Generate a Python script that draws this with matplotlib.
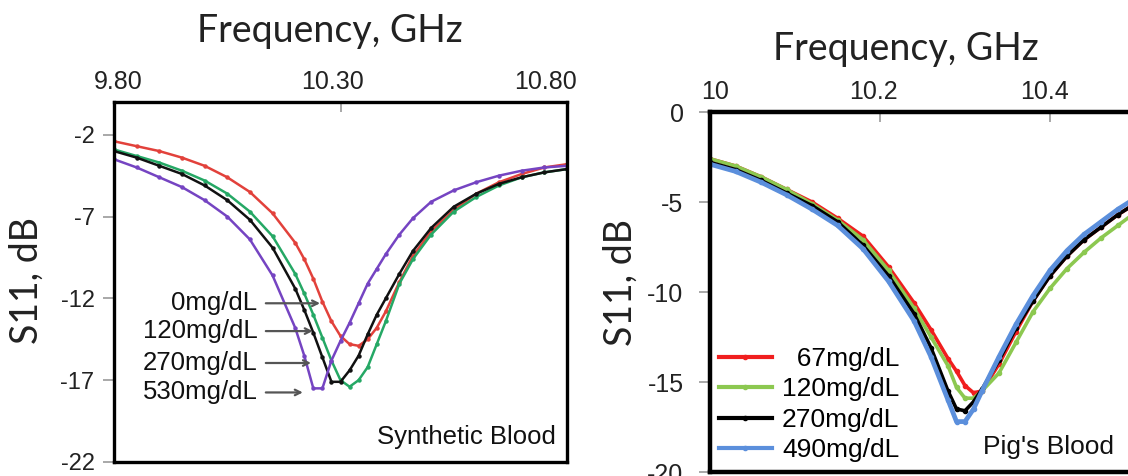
import matplotlib
matplotlib.use("Agg")
import matplotlib.pyplot as plt
import matplotlib.transforms as mtransforms
from matplotlib.lines import Line2D

# synthetic blood sweep (GHz, dB)
syn_freq = [9.80, 9.85, 9.90, 9.95, 10.00, 10.05, 10.10, 10.15, 10.20, 10.22,
            10.24, 10.26, 10.28, 10.30, 10.32, 10.34, 10.36, 10.38, 10.40, 10.43,
            10.46, 10.50, 10.55, 10.60, 10.65, 10.70, 10.75, 10.80]
syn_0 = [-2.4, -2.7, -3.0, -3.4, -3.9, -4.6, -5.5, -6.8, -8.6, -9.6,
         -10.8, -12.2, -13.4, -14.3, -14.8, -14.9, -14.5, -13.8, -12.8, -11.0,
         -9.4, -7.9, -6.6, -5.6, -4.9, -4.4, -4.0, -3.8]
syn_120 = [-2.9, -3.3, -3.7, -4.2, -4.8, -5.6, -6.7, -8.2, -10.5, -11.7,
           -13.0, -14.4, -15.8, -17.0, -17.4, -17.0, -16.2, -14.8, -13.4, -11.1,
           -9.6, -8.1, -6.7, -5.8, -5.1, -4.6, -4.3, -4.1]
syn_270 = [-3.0, -3.4, -3.9, -4.4, -5.1, -6.0, -7.2, -8.9, -11.4, -12.7,
           -14.1, -15.6, -17.1, -17.1, -16.4, -15.5, -14.2, -13.0, -12.0, -10.5,
           -9.1, -7.7, -6.4, -5.6, -5.0, -4.6, -4.3, -4.1]
syn_530 = [-3.5, -4.0, -4.6, -5.2, -6.0, -7.0, -8.4, -10.6, -13.8, -15.5,
           -17.5, -17.5, -15.8, -14.6, -13.5, -12.3, -11.1, -10.2, -9.3, -8.1,
           -7.1, -6.1, -5.4, -4.9, -4.5, -4.2, -4.0, -3.9]
syn_labels = ["0mg/dL", "120mg/dL", "270mg/dL", "530mg/dL"]
syn_colors = ["#e2413b", "#25a865", "#111111", "#7544c2"]
arrow_tips = [10.261, 10.245, 10.241, 10.223]
arrow_y = [-12.3, -14.0, -15.95, -17.75]

# pig's blood sweep (GHz, dB)
pig_freq = [10.00, 10.03, 10.06, 10.09, 10.12, 10.15, 10.18, 10.21, 10.24, 10.26,
            10.28, 10.29, 10.30, 10.31, 10.32, 10.34, 10.36, 10.38, 10.40, 10.42,
            10.44, 10.46, 10.48, 10.50]
pig_67 = [-2.6, -3.0, -3.6, -4.3, -5.0, -5.9, -6.9, -8.6, -10.6, -12.1,
          -13.7, -14.4, -15.2, -15.6, -15.5, -14.0, -12.2, -10.5, -9.1, -8.0,
          -7.1, -6.4, -5.7, -5.1]
pig_120 = [-2.6, -3.0, -3.6, -4.3, -5.1, -6.0, -7.1, -8.8, -10.9, -12.5,
           -14.1, -15.3, -15.9, -15.9, -15.5, -14.5, -12.8, -11.1, -9.8, -8.7,
           -7.8, -7.0, -6.3, -5.6]
pig_270 = [-2.8, -3.2, -3.8, -4.5, -5.2, -6.1, -7.4, -9.1, -11.2, -13.1,
           -15.5, -16.5, -16.6, -16.1, -15.4, -13.8, -12.0, -10.5, -9.1, -8.0,
           -7.1, -6.4, -5.7, -5.1]
pig_490 = [-2.9, -3.3, -3.9, -4.6, -5.4, -6.3, -7.6, -9.4, -11.6, -13.6,
           -16.0, -17.2, -17.2, -16.5, -15.5, -13.6, -11.8, -10.2, -8.8, -7.7,
           -6.8, -6.1, -5.4, -4.8]
pig_labels = ["  67mg/dL", "120mg/dL", "270mg/dL", "490mg/dL"]
pig_colors = ["#f01e1e", "#8cc850", "#000000", "#5b8fdc"]

syn_xticks = [9.80, 10.30, 10.80]
syn_yticks = [-22, -17, -12, -7, -2]
pig_xticks = [10.0, 10.2, 10.4]
pig_yticks = [-20, -15, -10, -5, 0]

W, H = 1128, 476
fig = plt.figure(figsize=(W / 100, H / 100), dpi=100)
arial = "Liberation Sans"
title_font = "Lato"


def px_box(x0, y0, x1, y1):
    return [x0 / W, 1 - y1 / H, (x1 - x0) / W, (y1 - y0) / H]


def style_axes(ax, lw):
    for side in ["top", "left", "bottom", "right"]:
        ax.spines[side].set_linewidth(lw)
        ax.spines[side].set_color("black")
    ax.xaxis.tick_top()
    ax.tick_params(axis="x", direction="in", length=7, width=1.2, color="#999999",
                   labelsize=18, pad=6, labelcolor="#222222")
    ax.tick_params(axis="y", direction="out", length=8, width=1.2, color="#999999",
                   labelsize=17, pad=6, labelcolor="#222222")
    for lab in ax.get_xticklabels() + ax.get_yticklabels():
        lab.set_family(arial)


def nudge_xlabels(ax, shifts_px):
    # small horizontal offsets for the top tick labels
    for tick, dx in zip(ax.xaxis.get_major_ticks(), shifts_px):
        off = mtransforms.ScaledTranslation(dx / 100, 0, fig.dpi_scale_trans)
        tick.label2.set_transform(tick.label2.get_transform() + off)


# left: synthetic blood
ax1 = fig.add_axes(px_box(114, 102, 567, 462))
for vals, col in zip([syn_0, syn_120, syn_270, syn_530], syn_colors):
    ax1.plot(syn_freq, vals, color=col, lw=1.8, marker="o", ms=2.2, mec=col, mfc=col)
ax1.set_xlim(9.80, 10.80)
ax1.set_ylim(-22, 0)
ax1.set_xticks(syn_xticks)
ax1.set_xticklabels(["%.2f" % v for v in syn_xticks])
ax1.set_yticks(syn_yticks)
ax1.set_yticklabels([str(v) for v in syn_yticks])
style_axes(ax1, 2.4)
nudge_xlabels(ax1, [4, -8, -22])

for lab, tip, yv in zip(syn_labels, arrow_tips, arrow_y):
    ax1.annotate("", xy=(tip, yv), xytext=(10.129, yv),
                 arrowprops=dict(arrowstyle="->", color="#555555", lw=1.6))
    ax1.text(10.117, yv, lab, ha="right", va="center", fontsize=18.5,
             family=arial, color="#111111")
ax1.text(10.775, -20.5, "Synthetic Blood", ha="right", va="center",
         fontsize=18.5, family=arial, color="#111111")

# right: pig's blood (runs past the right edge)
ax2 = fig.add_axes(px_box(710, 112, 1220, 472))
for vals, col, lab in zip([pig_67, pig_120, pig_270, pig_490], pig_colors, pig_labels):
    lw = 3.4 if col == "#5b8fdc" else 2.6
    ax2.plot(pig_freq, vals, color=col, lw=lw, marker="o", ms=3, mec=col, mfc=col,
             label=lab)
ax2.set_xlim(10.0, 10.6)
ax2.set_ylim(-20, 0)
ax2.set_xticks(pig_xticks)
ax2.set_xticklabels(["%g" % v for v in pig_xticks])
ax2.set_yticks(pig_yticks)
ax2.set_yticklabels([str(v) for v in pig_yticks])
style_axes(ax2, 3.2)
ax2.tick_params(axis="y", labelsize=18, pad=11)
nudge_xlabels(ax2, [5, -7, -6])

handles = [Line2D([0, 0.5, 1], [0, 0, 0], color=c, lw=3, marker="o", ms=3,
                  markevery=[1]) for c in pig_colors]
leg = ax2.legend(handles, pig_labels, loc="lower left",
                 bbox_to_anchor=(0.012, 0.02), frameon=False,
                 prop={"family": arial, "size": 19}, handlelength=2.0,
                 handletextpad=0.4, labelspacing=0.24, borderpad=0.1,
                 borderaxespad=0)
ax2.text(10.475, -18.6, "Pig's Blood", ha="right", va="center",
         fontsize=19, family=arial, color="#111111")

# axis titles
fig.text(330 / W, 1 - 31 / H, "Frequency, GHz", ha="center", va="center",
         fontsize=27, family=title_font, color="#222222")
fig.text(906 / W, 1 - 49 / H, "Frequency, GHz", ha="center", va="center",
         fontsize=27, family=title_font, color="#222222")
fig.text(27 / W, 1 - 281 / H, "S11, dB", ha="center", va="center",
         rotation=90, fontsize=27, family=title_font, color="#222222")
fig.text(621 / W, 1 - 282 / H, "S11, dB", ha="center", va="center",
         rotation=90, fontsize=27, family=title_font, color="#222222")

fig.savefig("out.png", dpi=100)
